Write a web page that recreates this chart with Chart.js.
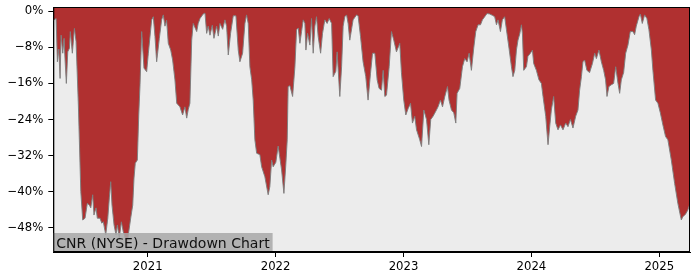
<!DOCTYPE html>
<html>
<head>
<meta charset="utf-8">
<script src="https://cdn.jsdelivr.net/npm/chart.js@4/dist/chart.umd.min.js"></script>
<style>
  html, body { margin: 0; padding: 0; background: #fff; }
  #wrap { width: 700px; height: 280px; }
</style>
</head>
<body>
<div id="wrap"><canvas id="chart"></canvas></div>
<script>
// fechas como año decimal
const years = [
  2020.263, 2020.284, 2020.294, 2020.305, 2020.315, 2020.323, 2020.336, 2020.346, 2020.354, 2020.364,
  2020.375, 2020.388, 2020.395, 2020.411, 2020.427, 2020.440, 2020.458, 2020.477, 2020.492, 2020.510,
  2020.528, 2020.544, 2020.555, 2020.570, 2020.580, 2020.596, 2020.606, 2020.627, 2020.641, 2020.653,
  2020.672, 2020.688, 2020.700, 2020.711, 2020.721, 2020.737, 2020.752, 2020.763, 2020.778, 2020.794,
  2020.809, 2020.825, 2020.836, 2020.852, 2020.867, 2020.883, 2020.893, 2020.903, 2020.919, 2020.930,
  2020.940, 2020.953, 2020.971, 2020.992, 2021.005, 2021.031, 2021.044, 2021.057, 2021.070, 2021.091,
  2021.109, 2021.122, 2021.135, 2021.148, 2021.161, 2021.180, 2021.195, 2021.213, 2021.227, 2021.252,
  2021.273, 2021.291, 2021.305, 2021.317, 2021.330, 2021.344, 2021.356, 2021.383, 2021.395, 2021.409,
  2021.434, 2021.448, 2021.461, 2021.473, 2021.487, 2021.505, 2021.518, 2021.539, 2021.552, 2021.565,
  2021.586, 2021.604, 2021.617, 2021.630, 2021.648, 2021.669, 2021.690, 2021.708, 2021.721, 2021.742,
  2021.760, 2021.773, 2021.786, 2021.799, 2021.813, 2021.825, 2021.838, 2021.852, 2021.877, 2021.891,
  2021.916, 2021.942, 2021.955, 2021.969, 2021.981, 2022.002, 2022.020, 2022.047, 2022.065, 2022.080,
  2022.091, 2022.098, 2022.112, 2022.133, 2022.151, 2022.164, 2022.177, 2022.190, 2022.203, 2022.216,
  2022.229, 2022.237, 2022.250, 2022.268, 2022.281, 2022.294, 2022.307, 2022.320, 2022.333, 2022.352,
  2022.367, 2022.385, 2022.403, 2022.419, 2022.438, 2022.450, 2022.471, 2022.481, 2022.502, 2022.516,
  2022.528, 2022.541, 2022.555, 2022.567, 2022.580, 2022.606, 2022.633, 2022.645, 2022.664, 2022.684,
  2022.705, 2022.723, 2022.742, 2022.758, 2022.776, 2022.794, 2022.809, 2022.828, 2022.841, 2022.854,
  2022.867, 2022.888, 2022.906, 2022.924, 2022.945, 2022.971, 2022.984, 2023.002, 2023.018, 2023.036,
  2023.055, 2023.070, 2023.088, 2023.102, 2023.127, 2023.141, 2023.159, 2023.180, 2023.198, 2023.213,
  2023.231, 2023.252, 2023.270, 2023.289, 2023.305, 2023.323, 2023.344, 2023.356, 2023.375, 2023.393,
  2023.409, 2023.419, 2023.440, 2023.461, 2023.479, 2023.497, 2023.513, 2023.531, 2023.549, 2023.565,
  2023.583, 2023.602, 2023.617, 2023.635, 2023.653, 2023.674, 2023.695, 2023.713, 2023.727, 2023.739,
  2023.758, 2023.773, 2023.791, 2023.805, 2023.825, 2023.844, 2023.856, 2023.870, 2023.883, 2023.895,
  2023.909, 2023.922, 2023.930, 2023.940, 2023.961, 2023.973, 2023.992, 2024.008, 2024.018, 2024.039,
  2024.059, 2024.078, 2024.091, 2024.112, 2024.130, 2024.143, 2024.156, 2024.174, 2024.190, 2024.208,
  2024.227, 2024.247, 2024.268, 2024.286, 2024.305, 2024.325, 2024.346, 2024.364, 2024.377, 2024.391,
  2024.403, 2024.416, 2024.434, 2024.455, 2024.477, 2024.495, 2024.508, 2024.528, 2024.547, 2024.565,
  2024.580, 2024.591, 2024.606, 2024.625, 2024.643, 2024.659, 2024.677, 2024.690, 2024.703, 2024.721,
  2024.737, 2024.755, 2024.773, 2024.794, 2024.807, 2024.820, 2024.841, 2024.852, 2024.867, 2024.885,
  2024.903, 2024.919, 2024.938, 2024.950, 2024.971, 2024.989, 2025.008, 2025.028, 2025.049, 2025.067,
  2025.094, 2025.120, 2025.145, 2025.172, 2025.184, 2025.205, 2025.223, 2025.236
];

// caída desde el máximo, en %
const drawdown = [
  -2.0, -1.6, -11.2, -8.4, -14.9, -5.3, -9.3, -6.0, -10.8, -16.0,
  -9.0, -8.2, -4.5, -9.3, -3.8, -6.7, -20.8, -40.0, -46.3, -45.9,
  -42.6, -43.0, -43.6, -40.7, -45.2, -43.6, -45.9, -45.9, -47.0, -46.7,
  -49.6, -45.9, -41.4, -37.8, -43.0, -47.4, -49.6, -47.4, -50.3, -46.7,
  -48.9, -50.3, -53.0, -48.9, -45.9, -43.0, -37.0, -33.7, -33.0, -23.0,
  -16.3, -4.5, -12.6, -13.4, -9.3, -1.9, -1.2, -5.6, -11.2, -6.0,
  -1.9, -0.8, -3.3, -2.0, -7.1, -8.6, -10.8, -15.2, -20.4, -21.2,
  -23.0, -21.2, -23.7, -21.8, -20.4, -6.4, -2.7, -4.5, -2.7, -1.6,
  -0.6, -0.4, -4.9, -3.3, -5.3, -3.1, -6.0, -3.3, -5.5, -2.7,
  -4.0, -1.9, -3.3, -9.7, -4.9, -1.0, -1.0, -8.6, -11.2, -9.3,
  -2.7, -0.8, -2.7, -12.3, -15.2, -19.7, -28.5, -31.5, -31.8, -34.5,
  -36.7, -40.7, -38.9, -33.0, -34.5, -33.5, -29.9, -35.2, -40.4, -34.0,
  -28.5, -16.7, -16.5, -18.9, -12.3, -4.1, -3.7, -7.1, -4.5, -1.9,
  -2.7, -8.6, -4.9, -7.5, -1.6, -9.3, -3.3, -1.2, -5.6, -9.3,
  -4.9, -1.9, -2.7, -1.6, -2.7, -14.5, -13.3, -9.0, -18.9, -12.3,
  -3.3, -1.2, -0.8, -2.7, -6.4, -1.9, -0.8, -1.0, -5.6, -11.2,
  -14.5, -19.7, -13.8, -9.3, -9.3, -15.2, -17.1, -17.5, -13.1, -18.9,
  -18.6, -12.3, -4.5, -6.4, -9.0, -7.1, -13.6, -19.7, -23.0, -21.6,
  -20.4, -24.8, -23.3, -26.3, -28.5, -30.0, -21.9, -24.0, -29.6, -24.0,
  -23.3, -22.2, -21.2, -19.7, -21.2, -18.9, -16.7, -19.7, -21.9, -22.5,
  -24.8, -18.2, -17.1, -12.3, -10.5, -11.2, -9.3, -13.1, -8.2, -4.5,
  -3.0, -3.0, -1.9, -1.2, -0.5, -0.6, -0.9, -1.2, -3.0, -1.9,
  -4.5, -1.9, -1.2, -4.1, -8.2, -12.3, -14.5, -13.1, -8.6, -6.4,
  -5.0, -3.0, -5.0, -13.1, -12.3, -10.0, -9.3, -8.6, -11.6, -13.1,
  -15.2, -16.0, -18.9, -23.3, -29.6, -25.6, -21.9, -18.9, -24.8, -26.3,
  -25.2, -26.3, -24.8, -25.6, -24.0, -25.9, -23.3, -21.9, -17.5, -14.5,
  -11.2, -10.8, -13.1, -13.6, -11.6, -9.3, -10.5, -8.6, -11.2, -13.1,
  -15.2, -18.9, -16.7, -16.3, -16.0, -12.3, -16.0, -18.2, -15.2, -13.6,
  -9.3, -7.5, -4.5, -4.5, -5.2, -3.3, -1.2, -0.6, -2.7, -0.8,
  -1.6, -4.1, -8.6, -13.1, -19.7, -20.4, -22.5, -25.2, -27.8, -28.5,
  -33.0, -38.2, -42.6, -46.3, -45.6, -45.0, -44.1, -43.0
];

const yearTicks = [2021, 2022, 2023, 2024, 2025];
const pctTicks = [0, -8, -16, -24, -32, -40, -48];
const chartTitle = 'CNR (NYSE) - Drawdown Chart';

const points = years.map((y, i) => ({ x: y, y: drawdown[i] }));

// fondo gris del área y marco negro
const areaPlugin = {
  id: 'areaPlugin',
  beforeDraw(chart) {
    const { ctx, chartArea: a } = chart;
    ctx.save();
    ctx.fillStyle = '#ececec';
    ctx.fillRect(a.left, a.top, a.right - a.left, a.bottom - a.top);
    ctx.restore();
  },
  afterDraw(chart) {
    const { ctx, chartArea: a } = chart;
    ctx.save();
    // etiqueta abajo a la izquierda
    ctx.font = '14px "DejaVu Sans"';
    const w = ctx.measureText(chartTitle).width;
    ctx.fillStyle = 'rgba(168,168,168,0.85)';
    ctx.fillRect(a.left, a.bottom - 19, w + 6, 19);
    ctx.fillStyle = '#111';
    ctx.textBaseline = 'alphabetic';
    ctx.fillText(chartTitle, a.left + 3, a.bottom - 4.5);
    // marco
    ctx.strokeStyle = '#000';
    ctx.lineWidth = 1;
    ctx.strokeRect(a.left + 0.5, a.top + 0.5, a.right - a.left - 1, a.bottom - a.top - 1);
    ctx.restore();
  }
};

const ctx = document.getElementById('chart').getContext('2d');
new Chart(ctx, {
  type: 'line',
  data: {
    datasets: [{
      data: points,
      borderColor: 'rgba(125,125,125,0.95)',
      borderWidth: 1,
      backgroundColor: '#b03030',
      fill: 'end',
      pointRadius: 0,
      tension: 0
    }]
  },
  options: {
    responsive: true,
    maintainAspectRatio: false,
    animation: false,
    layout: { padding: { top: 7, right: 10, left: 0, bottom: 0 } },
    plugins: { legend: { display: false }, tooltip: { enabled: false } },
    scales: {
      x: {
        type: 'linear',
        min: 2020.262,
        max: 2025.24,
        afterFit: s => { s.height = 28; s.paddingLeft = 0; s.paddingRight = 0; },
        afterBuildTicks: s => { s.ticks = yearTicks.map(v => ({ value: v })); },
        grid: { drawOnChartArea: false, drawTicks: true, tickLength: 5, color: '#000' },
        border: { display: true, color: '#000' },
        ticks: {
          padding: 3,
          maxRotation: 0,
          color: '#000',
          font: { family: 'DejaVu Sans', size: 11.7 },
          callback: v => String(v)
        }
      },
      y: {
        min: -53.4,
        max: 0.95,
        afterFit: s => { s.width = 53.3; s.paddingTop = 0; s.paddingBottom = 0; },
        afterBuildTicks: s => { s.ticks = pctTicks.map(v => ({ value: v })); },
        grid: { drawOnChartArea: false, drawTicks: true, tickLength: 5, color: '#000' },
        border: { display: true, color: '#000' },
        ticks: {
          padding: 5,
          color: '#000',
          font: { family: 'DejaVu Sans', size: 11.7 },
          callback: v => v === 0 ? '0%' : '\u2212' + Math.abs(v) + '%'
        }
      }
    }
  },
  plugins: [areaPlugin]
});
</script>
</body>
</html>
